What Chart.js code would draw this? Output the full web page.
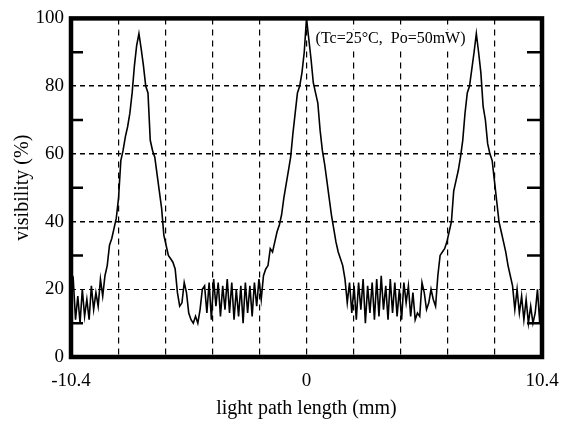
<!DOCTYPE html>
<html>
<head>
<meta charset="utf-8">
<script src="https://cdn.jsdelivr.net/npm/chart.js@4.4.0/dist/chart.umd.min.js"></script>
<style>
html, body { margin: 0; padding: 0; background: #fff; }
</style>
</head>
<body>
<canvas id="visChart" width="567" height="425"></canvas>
<script>
// light path length (mm), one row = 10 samples
const pathLength = [
  -10.4, -10.3, -10.2, -10.1, -10.0, -9.9, -9.8, -9.7, -9.6, -9.5,
  -9.4, -9.3, -9.2, -9.1, -9.0, -8.9, -8.8, -8.7, -8.6, -8.5,
  -8.4, -8.3, -8.2, -8.1, -8.0, -7.9, -7.8, -7.7, -7.6, -7.5,
  -7.4, -7.3, -7.2, -7.1, -7.0, -6.9, -6.8, -6.7, -6.6, -6.5,
  -6.4, -6.3, -6.2, -6.1, -6.0, -5.9, -5.8, -5.7, -5.6, -5.5,
  -5.4, -5.3, -5.2, -5.1, -5.0, -4.9, -4.8, -4.7, -4.6, -4.5,
  -4.4, -4.3, -4.2, -4.1, -4.0, -3.9, -3.8, -3.7, -3.6, -3.5,
  -3.4, -3.3, -3.2, -3.1, -3.0, -2.9, -2.8, -2.7, -2.6, -2.5,
  -2.4, -2.3, -2.2, -2.1, -2.0, -1.9, -1.8, -1.7, -1.6, -1.5,
  -1.4, -1.3, -1.2, -1.1, -1.0, -0.9, -0.8, -0.7, -0.6, -0.5,
  -0.4, -0.3, -0.2, -0.1, 0.0, 0.1, 0.2, 0.3, 0.4, 0.5,
  0.6, 0.7, 0.8, 0.9, 1.0, 1.1, 1.2, 1.3, 1.4, 1.5,
  1.6, 1.7, 1.8, 1.9, 2.0, 2.1, 2.2, 2.3, 2.4, 2.5,
  2.6, 2.7, 2.8, 2.9, 3.0, 3.1, 3.2, 3.3, 3.4, 3.5,
  3.6, 3.7, 3.8, 3.9, 4.0, 4.1, 4.2, 4.3, 4.4, 4.5,
  4.6, 4.7, 4.8, 4.9, 5.0, 5.1, 5.2, 5.3, 5.4, 5.5,
  5.6, 5.7, 5.8, 5.9, 6.0, 6.1, 6.2, 6.3, 6.4, 6.5,
  6.6, 6.7, 6.8, 6.9, 7.0, 7.1, 7.2, 7.3, 7.4, 7.5,
  7.6, 7.7, 7.8, 7.9, 8.0, 8.1, 8.2, 8.3, 8.4, 8.5,
  8.6, 8.7, 8.8, 8.9, 9.0, 9.1, 9.2, 9.3, 9.4, 9.5,
  9.6, 9.7, 9.8, 9.9, 10.0, 10.1, 10.2, 10.3, 10.4
];

// visibility (%)
const visibility = [
  21, 23, 11, 18, 10, 20, 12, 17, 11, 21,
  14, 19, 15, 23, 18, 24, 27, 33, 35, 38,
  41, 47, 58, 61, 65, 68, 72, 78, 86, 92,
  95.5, 91, 86, 80, 78, 64, 61, 59, 54, 49,
  44, 36, 33, 30, 29, 28, 26, 19, 15, 16,
  22, 19, 13, 11, 10, 12, 10, 14, 20, 21,
  13, 22, 11, 23, 15, 22, 12, 21, 14, 23,
  13, 22, 11, 20, 12, 21, 10, 22, 13, 21,
  12, 22, 15, 23, 17, 24, 26, 27, 32, 31,
  34, 37, 39, 42, 47, 51, 55, 59, 66, 72,
  78, 80, 84, 90, 100, 94, 88, 81, 78, 75,
  67, 61, 57, 52, 47, 42, 38, 34, 31, 29,
  27, 23, 16, 22, 13, 21, 11, 22, 14, 23,
  10, 21, 13, 22, 11, 23, 12, 24, 14, 21,
  11, 23, 13, 22, 12, 20, 11, 22, 16, 21,
  12, 19, 11, 13, 12, 22, 19, 14, 16, 20,
  17, 15, 24, 30, 31, 32, 34, 37, 40, 49,
  52, 55, 59, 64, 72, 78, 80, 85, 90, 95.5,
  90, 84, 74, 70, 63, 60, 58, 52, 46, 40,
  37, 34, 31, 27, 24, 21, 14, 20, 13, 18,
  11, 17, 10, 15, 10, 13, 20, 10, 23
];

// vertical dashed grid positions and the ones that get a label
const xGridTicks = [-10.4, -8.32, -6.24, -4.16, -2.08, 0, 2.08, 4.16, 6.24, 8.32, 10.4];
const xLabelTicks = [-10.4, 0, 10.4];
const yMinorTicks = [10, 30, 50, 70, 90];
const noteText = "(Tc=25\u00B0C,  Po=50mW)";

const SERIF = '"Liberation Serif", "DejaVu Serif", serif';

// 조건 표기 (격자 위, 곡선 아래)
const notePlugin = {
  id: "note",
  beforeDatasetsDraw(chart) {
    const { ctx, scales } = chart;
    const px = scales.x.getPixelForValue(0.4);
    const py = scales.y.getPixelForValue(94);
    ctx.save();
    ctx.font = "16px " + SERIF;
    const w = ctx.measureText(noteText).width;
    ctx.fillStyle = "#fff";
    ctx.fillRect(px - 2, py - 9, w + 4, 18);
    ctx.fillStyle = "#000";
    ctx.textBaseline = "middle";
    ctx.fillText(noteText, px, py);
    ctx.restore();
  }
};

// 테두리, 안쪽 보조 눈금
const framePlugin = {
  id: "frame",
  afterDatasetsDraw(chart) {
    const { ctx, chartArea: a, scales } = chart;
    const y = scales.y;
    ctx.save();
    ctx.strokeStyle = "#000";
    ctx.lineWidth = 2.5;
    yMinorTicks.forEach(v => {
      const py = y.getPixelForValue(v);
      ctx.beginPath();
      ctx.moveTo(a.left, py);
      ctx.lineTo(a.left + 12, py);
      ctx.moveTo(a.right - 15, py);
      ctx.lineTo(a.right, py);
      ctx.stroke();
    });
    ctx.lineWidth = 4.5;
    ctx.strokeRect(a.left, a.top, a.right - a.left, a.bottom - a.top);
    ctx.restore();
  }
};

const ctx = document.getElementById("visChart").getContext("2d");

new Chart(ctx, {
  type: "line",
  data: {
    datasets: [{
      data: pathLength.map((x, i) => ({ x: x, y: visibility[i] })),
      borderColor: "#000",
      borderWidth: 1.6,
      pointRadius: 0,
      tension: 0,
      fill: false
    }]
  },
  options: {
    responsive: false,
    animation: false,
    devicePixelRatio: 1,
    layout: { padding: { left: 0, right: 25, top: 17, bottom: 0 } },
    plugins: {
      legend: { display: false },
      tooltip: { enabled: false }
    },
    scales: {
      x: {
        type: "linear",
        min: -10.4,
        max: 10.4,
        afterBuildTicks: s => { s.ticks = xGridTicks.map(v => ({ value: v })); },
        afterFit: s => {
          s.height = 68;
          s.paddingLeft = 0;   // 라벨 여백 때문에 오른쪽이 줄어드는 것 방지
          s.paddingRight = 0;
        },
        grid: { color: "#000", lineWidth: 1.2, drawTicks: false },
        border: { display: false, dash: [6, 5] },
        ticks: {
          autoSkip: false,
          maxRotation: 0,
          padding: 13,
          color: "#000",
          font: { family: SERIF, size: 19 },
          callback: v => {
            const hit = xLabelTicks.find(t => Math.abs(t - v) < 1e-6);
            return hit === undefined ? "" : String(hit);
          }
        },
        title: {
          display: true,
          text: "light path length (mm)",
          color: "#000",
          font: { family: SERIF, size: 20 },
          padding: { top: 4, bottom: 4 }
        }
      },
      y: {
        min: 0,
        max: 100,
        afterFit: s => { s.width = 71; },
        grid: {
          color: "#000",
          lineWidth: c => (c.tick && c.tick.value === 20 ? 1 : 1.6),
          drawTicks: false
        },
        border: { display: false, dash: [5, 4] },
        ticks: {
          stepSize: 20,
          padding: 7,
          color: "#000",
          font: { family: SERIF, size: 19 }
        },
        title: {
          display: true,
          text: "visibility (%)",
          color: "#000",
          font: { family: SERIF, size: 20 },
          padding: { top: 11, bottom: 0 }
        }
      }
    }
  },
  plugins: [notePlugin, framePlugin]
});
</script>
</body>
</html>
